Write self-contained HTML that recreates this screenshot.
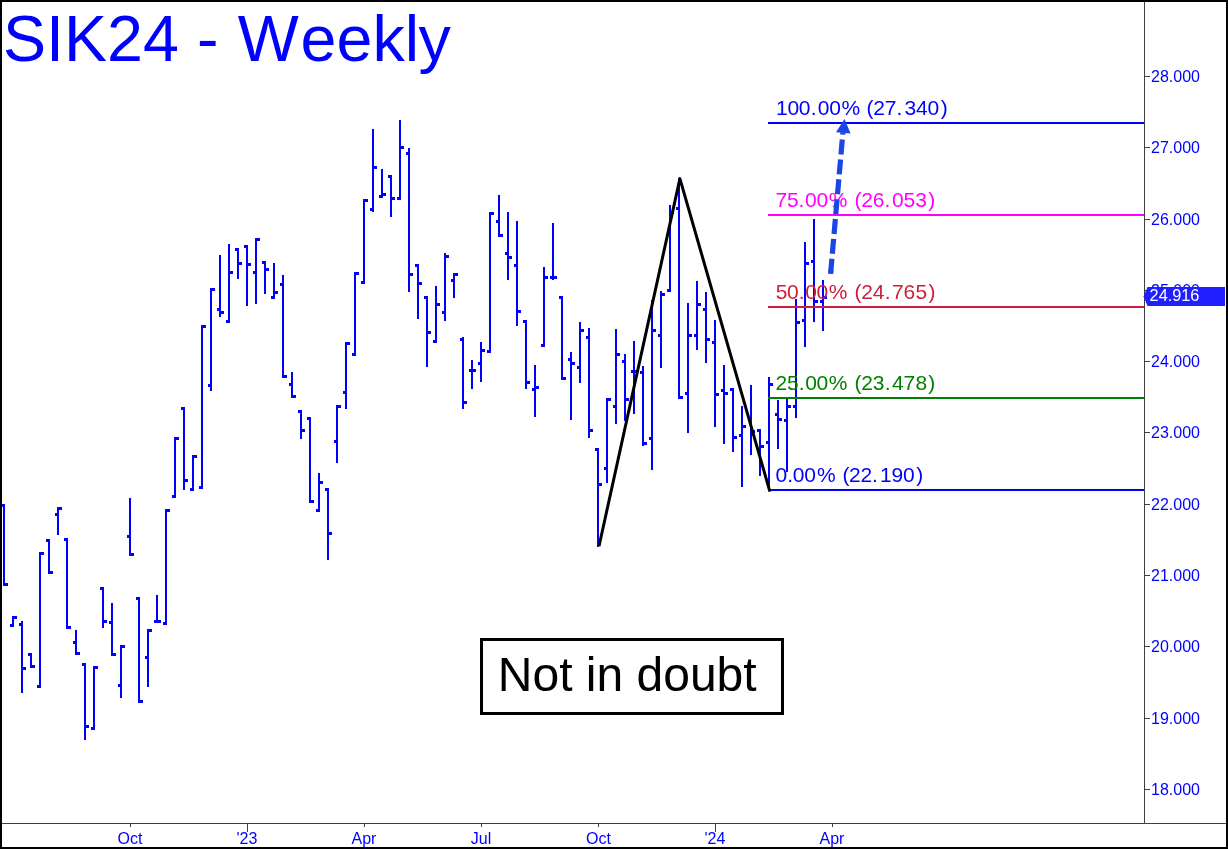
<!DOCTYPE html>
<html lang="en"><head><meta charset="utf-8"><title>SIK24 - Weekly</title>
<style>
html,body{margin:0;padding:0;background:#fff;}
body{width:1228px;height:849px;overflow:hidden;font-family:"Liberation Sans",Arial,sans-serif;}
svg{display:block;}
text{font-family:"Liberation Sans",Arial,sans-serif;}
.ax{font-size:16px;fill:#0000ff;}
.fib{font-size:21px;}
</style></head><body>
<svg width="1228" height="849" viewBox="0 0 1228 849">
<rect x="0" y="0" width="1228" height="849" fill="#ffffff"/>

<g shape-rendering="crispEdges">
<rect x="1144" y="2" width="1" height="822" fill="#404040"/>
<rect x="2" y="823" width="1224" height="1" fill="#404040"/>
<rect x="1145" y="76" width="5" height="1" fill="#404040"/>
<rect x="1145" y="147" width="5" height="1" fill="#404040"/>
<rect x="1145" y="219" width="5" height="1" fill="#404040"/>
<rect x="1145" y="290" width="5" height="1" fill="#404040"/>
<rect x="1145" y="361" width="5" height="1" fill="#404040"/>
<rect x="1145" y="432" width="5" height="1" fill="#404040"/>
<rect x="1145" y="504" width="5" height="1" fill="#404040"/>
<rect x="1145" y="575" width="5" height="1" fill="#404040"/>
<rect x="1145" y="646" width="5" height="1" fill="#404040"/>
<rect x="1145" y="718" width="5" height="1" fill="#404040"/>
<rect x="1145" y="789" width="5" height="1" fill="#404040"/>
<rect x="130" y="824" width="1" height="3" fill="#404040"/>
<rect x="247" y="824" width="1" height="8" fill="#404040"/>
<rect x="364" y="824" width="1" height="3" fill="#404040"/>
<rect x="481" y="824" width="1" height="3" fill="#404040"/>
<rect x="598" y="824" width="1" height="3" fill="#404040"/>
<rect x="715" y="824" width="1" height="8" fill="#404040"/>
<rect x="832" y="824" width="1" height="3" fill="#404040"/>
</g>
<text class="ax" x="1151" y="82">28.000</text>
<text class="ax" x="1151" y="153">27.000</text>
<text class="ax" x="1151" y="225">26.000</text>
<text class="ax" x="1151" y="296">25.000</text>
<text class="ax" x="1151" y="367">24.000</text>
<text class="ax" x="1151" y="438">23.000</text>
<text class="ax" x="1151" y="510">22.000</text>
<text class="ax" x="1151" y="581">21.000</text>
<text class="ax" x="1151" y="652">20.000</text>
<text class="ax" x="1151" y="724">19.000</text>
<text class="ax" x="1151" y="795">18.000</text>
<text class="ax" x="130" y="844" text-anchor="middle">Oct</text>
<text class="ax" x="247" y="844" text-anchor="middle">'23</text>
<text class="ax" x="364" y="844" text-anchor="middle">Apr</text>
<text class="ax" x="481" y="844" text-anchor="middle">Jul</text>
<text class="ax" x="598.5" y="844" text-anchor="middle">Oct</text>
<text class="ax" x="715" y="844" text-anchor="middle">'24</text>
<text class="ax" x="832" y="844" text-anchor="middle">Apr</text>
<g fill="#0000ff" shape-rendering="crispEdges">
<rect x="3" y="504" width="2" height="82"/>
<rect x="2" y="504" width="1" height="3"/>
<rect x="5" y="583" width="3" height="3"/>
<rect x="12" y="616" width="2" height="11"/>
<rect x="10" y="624" width="2" height="3"/>
<rect x="14" y="616" width="3" height="3"/>
<rect x="21" y="621" width="2" height="72"/>
<rect x="19" y="623" width="2" height="3"/>
<rect x="23" y="667" width="3" height="3"/>
<rect x="30" y="653" width="2" height="15"/>
<rect x="28" y="653" width="2" height="3"/>
<rect x="32" y="665" width="3" height="3"/>
<rect x="39" y="552" width="2" height="136"/>
<rect x="37" y="685" width="2" height="3"/>
<rect x="41" y="552" width="3" height="3"/>
<rect x="48" y="539" width="2" height="35"/>
<rect x="46" y="539" width="2" height="3"/>
<rect x="50" y="571" width="3" height="3"/>
<rect x="57" y="507" width="2" height="28"/>
<rect x="55" y="513" width="2" height="3"/>
<rect x="59" y="507" width="3" height="3"/>
<rect x="66" y="538" width="2" height="91"/>
<rect x="64" y="538" width="2" height="3"/>
<rect x="68" y="626" width="3" height="3"/>
<rect x="75" y="630" width="2" height="25"/>
<rect x="73" y="641" width="2" height="3"/>
<rect x="77" y="652" width="3" height="3"/>
<rect x="84" y="663" width="2" height="77"/>
<rect x="82" y="663" width="2" height="3"/>
<rect x="86" y="725" width="3" height="3"/>
<rect x="93" y="666" width="2" height="64"/>
<rect x="91" y="727" width="2" height="3"/>
<rect x="95" y="666" width="3" height="3"/>
<rect x="102" y="587" width="2" height="41"/>
<rect x="100" y="587" width="2" height="3"/>
<rect x="104" y="620" width="3" height="3"/>
<rect x="111" y="603" width="2" height="53"/>
<rect x="109" y="621" width="2" height="3"/>
<rect x="113" y="653" width="3" height="3"/>
<rect x="120" y="645" width="2" height="53"/>
<rect x="118" y="684" width="2" height="3"/>
<rect x="122" y="645" width="3" height="3"/>
<rect x="129" y="498" width="2" height="58"/>
<rect x="127" y="535" width="2" height="3"/>
<rect x="131" y="553" width="3" height="3"/>
<rect x="138" y="597" width="2" height="106"/>
<rect x="136" y="597" width="2" height="3"/>
<rect x="140" y="700" width="3" height="3"/>
<rect x="147" y="629" width="2" height="58"/>
<rect x="145" y="656" width="2" height="3"/>
<rect x="149" y="629" width="3" height="3"/>
<rect x="156" y="595" width="2" height="28"/>
<rect x="154" y="620" width="2" height="3"/>
<rect x="158" y="620" width="3" height="3"/>
<rect x="165" y="509" width="2" height="116"/>
<rect x="163" y="622" width="2" height="3"/>
<rect x="167" y="509" width="3" height="3"/>
<rect x="174" y="437" width="2" height="61"/>
<rect x="172" y="495" width="2" height="3"/>
<rect x="176" y="437" width="3" height="3"/>
<rect x="183" y="407" width="2" height="83"/>
<rect x="181" y="407" width="2" height="3"/>
<rect x="185" y="479" width="3" height="3"/>
<rect x="192" y="455" width="2" height="36"/>
<rect x="190" y="488" width="2" height="3"/>
<rect x="194" y="455" width="3" height="3"/>
<rect x="201" y="325" width="2" height="164"/>
<rect x="199" y="486" width="2" height="3"/>
<rect x="203" y="325" width="3" height="3"/>
<rect x="210" y="288" width="2" height="103"/>
<rect x="208" y="384" width="2" height="3"/>
<rect x="212" y="288" width="3" height="3"/>
<rect x="219" y="255" width="2" height="62"/>
<rect x="217" y="308" width="2" height="3"/>
<rect x="221" y="311" width="3" height="3"/>
<rect x="228" y="244" width="2" height="79"/>
<rect x="226" y="320" width="2" height="3"/>
<rect x="230" y="271" width="3" height="3"/>
<rect x="237" y="248" width="2" height="31"/>
<rect x="235" y="248" width="2" height="3"/>
<rect x="239" y="262" width="3" height="3"/>
<rect x="246" y="245" width="2" height="61"/>
<rect x="244" y="245" width="2" height="3"/>
<rect x="248" y="263" width="3" height="3"/>
<rect x="255" y="238" width="2" height="66"/>
<rect x="253" y="271" width="2" height="3"/>
<rect x="257" y="238" width="3" height="3"/>
<rect x="264" y="261" width="2" height="33"/>
<rect x="262" y="261" width="2" height="3"/>
<rect x="266" y="268" width="3" height="3"/>
<rect x="273" y="263" width="2" height="36"/>
<rect x="271" y="296" width="2" height="3"/>
<rect x="275" y="291" width="3" height="3"/>
<rect x="282" y="275" width="2" height="103"/>
<rect x="280" y="283" width="2" height="3"/>
<rect x="284" y="375" width="3" height="3"/>
<rect x="291" y="372" width="2" height="26"/>
<rect x="289" y="383" width="2" height="3"/>
<rect x="293" y="395" width="3" height="3"/>
<rect x="300" y="410" width="2" height="29"/>
<rect x="298" y="410" width="2" height="3"/>
<rect x="302" y="429" width="3" height="3"/>
<rect x="309" y="417" width="2" height="86"/>
<rect x="307" y="417" width="2" height="3"/>
<rect x="311" y="500" width="3" height="3"/>
<rect x="318" y="473" width="2" height="39"/>
<rect x="316" y="509" width="2" height="3"/>
<rect x="320" y="481" width="3" height="3"/>
<rect x="327" y="488" width="2" height="72"/>
<rect x="325" y="488" width="2" height="3"/>
<rect x="329" y="532" width="3" height="3"/>
<rect x="336" y="405" width="2" height="58"/>
<rect x="334" y="440" width="2" height="3"/>
<rect x="338" y="405" width="3" height="3"/>
<rect x="345" y="342" width="2" height="67"/>
<rect x="343" y="391" width="2" height="3"/>
<rect x="347" y="342" width="3" height="3"/>
<rect x="354" y="272" width="2" height="84"/>
<rect x="352" y="353" width="2" height="3"/>
<rect x="356" y="272" width="3" height="3"/>
<rect x="363" y="199" width="2" height="85"/>
<rect x="361" y="281" width="2" height="3"/>
<rect x="365" y="199" width="3" height="3"/>
<rect x="372" y="129" width="2" height="83"/>
<rect x="370" y="208" width="2" height="3"/>
<rect x="374" y="166" width="3" height="3"/>
<rect x="381" y="169" width="2" height="29"/>
<rect x="379" y="195" width="2" height="3"/>
<rect x="383" y="193" width="3" height="3"/>
<rect x="390" y="175" width="2" height="42"/>
<rect x="388" y="175" width="2" height="3"/>
<rect x="392" y="197" width="3" height="3"/>
<rect x="399" y="120" width="2" height="80"/>
<rect x="397" y="197" width="2" height="3"/>
<rect x="401" y="146" width="3" height="3"/>
<rect x="408" y="148" width="2" height="144"/>
<rect x="406" y="152" width="2" height="3"/>
<rect x="410" y="273" width="3" height="3"/>
<rect x="417" y="264" width="2" height="55"/>
<rect x="415" y="264" width="2" height="3"/>
<rect x="419" y="282" width="3" height="3"/>
<rect x="426" y="296" width="2" height="71"/>
<rect x="424" y="296" width="2" height="3"/>
<rect x="428" y="331" width="3" height="3"/>
<rect x="435" y="286" width="2" height="57"/>
<rect x="433" y="340" width="2" height="3"/>
<rect x="437" y="303" width="3" height="3"/>
<rect x="444" y="253" width="2" height="68"/>
<rect x="442" y="311" width="2" height="3"/>
<rect x="446" y="255" width="3" height="3"/>
<rect x="453" y="273" width="2" height="25"/>
<rect x="451" y="279" width="2" height="3"/>
<rect x="455" y="273" width="3" height="3"/>
<rect x="462" y="337" width="2" height="72"/>
<rect x="460" y="338" width="2" height="3"/>
<rect x="464" y="401" width="3" height="3"/>
<rect x="471" y="360" width="2" height="29"/>
<rect x="469" y="369" width="2" height="3"/>
<rect x="473" y="369" width="3" height="3"/>
<rect x="480" y="342" width="2" height="40"/>
<rect x="478" y="362" width="2" height="3"/>
<rect x="482" y="349" width="3" height="3"/>
<rect x="489" y="212" width="2" height="141"/>
<rect x="487" y="350" width="2" height="3"/>
<rect x="491" y="212" width="3" height="3"/>
<rect x="498" y="195" width="2" height="42"/>
<rect x="496" y="220" width="2" height="3"/>
<rect x="500" y="234" width="3" height="3"/>
<rect x="507" y="212" width="2" height="68"/>
<rect x="505" y="252" width="2" height="3"/>
<rect x="509" y="256" width="3" height="3"/>
<rect x="516" y="221" width="2" height="105"/>
<rect x="514" y="264" width="2" height="3"/>
<rect x="518" y="310" width="3" height="3"/>
<rect x="525" y="320" width="2" height="69"/>
<rect x="523" y="320" width="2" height="3"/>
<rect x="527" y="381" width="3" height="3"/>
<rect x="534" y="365" width="2" height="52"/>
<rect x="532" y="388" width="2" height="3"/>
<rect x="536" y="386" width="3" height="3"/>
<rect x="543" y="267" width="2" height="80"/>
<rect x="541" y="344" width="2" height="3"/>
<rect x="545" y="276" width="3" height="3"/>
<rect x="552" y="223" width="2" height="57"/>
<rect x="550" y="276" width="2" height="3"/>
<rect x="554" y="276" width="3" height="3"/>
<rect x="561" y="296" width="2" height="84"/>
<rect x="559" y="296" width="2" height="3"/>
<rect x="563" y="377" width="3" height="3"/>
<rect x="570" y="352" width="2" height="68"/>
<rect x="568" y="358" width="2" height="3"/>
<rect x="572" y="362" width="3" height="3"/>
<rect x="579" y="322" width="2" height="61"/>
<rect x="577" y="366" width="2" height="3"/>
<rect x="581" y="329" width="3" height="3"/>
<rect x="588" y="328" width="2" height="110"/>
<rect x="586" y="336" width="2" height="3"/>
<rect x="590" y="429" width="3" height="3"/>
<rect x="597" y="448" width="2" height="99"/>
<rect x="595" y="448" width="2" height="3"/>
<rect x="599" y="483" width="3" height="3"/>
<rect x="606" y="398" width="2" height="85"/>
<rect x="604" y="467" width="2" height="3"/>
<rect x="608" y="398" width="3" height="3"/>
<rect x="615" y="329" width="2" height="95"/>
<rect x="613" y="405" width="2" height="3"/>
<rect x="617" y="353" width="3" height="3"/>
<rect x="624" y="354" width="2" height="67"/>
<rect x="622" y="360" width="2" height="3"/>
<rect x="626" y="398" width="3" height="3"/>
<rect x="633" y="341" width="2" height="73"/>
<rect x="631" y="370" width="2" height="3"/>
<rect x="635" y="370" width="3" height="3"/>
<rect x="642" y="366" width="2" height="80"/>
<rect x="640" y="371" width="2" height="3"/>
<rect x="644" y="442" width="3" height="3"/>
<rect x="651" y="300" width="2" height="170"/>
<rect x="649" y="437" width="2" height="3"/>
<rect x="653" y="329" width="3" height="3"/>
<rect x="660" y="291" width="2" height="77"/>
<rect x="658" y="334" width="2" height="3"/>
<rect x="662" y="293" width="3" height="3"/>
<rect x="669" y="205" width="2" height="87"/>
<rect x="667" y="289" width="2" height="3"/>
<rect x="671" y="211" width="3" height="3"/>
<rect x="678" y="178" width="2" height="221"/>
<rect x="676" y="207" width="2" height="3"/>
<rect x="680" y="396" width="3" height="3"/>
<rect x="687" y="303" width="2" height="130"/>
<rect x="685" y="392" width="2" height="3"/>
<rect x="689" y="334" width="3" height="3"/>
<rect x="696" y="281" width="2" height="69"/>
<rect x="694" y="334" width="2" height="3"/>
<rect x="698" y="303" width="3" height="3"/>
<rect x="705" y="292" width="2" height="71"/>
<rect x="703" y="308" width="2" height="3"/>
<rect x="707" y="338" width="3" height="3"/>
<rect x="714" y="320" width="2" height="107"/>
<rect x="712" y="341" width="2" height="3"/>
<rect x="716" y="393" width="3" height="3"/>
<rect x="723" y="365" width="2" height="79"/>
<rect x="721" y="389" width="2" height="3"/>
<rect x="725" y="392" width="3" height="3"/>
<rect x="732" y="388" width="2" height="64"/>
<rect x="730" y="388" width="2" height="3"/>
<rect x="734" y="436" width="3" height="3"/>
<rect x="741" y="406" width="2" height="81"/>
<rect x="739" y="434" width="2" height="3"/>
<rect x="743" y="425" width="3" height="3"/>
<rect x="750" y="385" width="2" height="70"/>
<rect x="748" y="417" width="2" height="3"/>
<rect x="752" y="430" width="3" height="3"/>
<rect x="759" y="429" width="2" height="47"/>
<rect x="757" y="429" width="2" height="3"/>
<rect x="761" y="445" width="3" height="3"/>
<rect x="768" y="377" width="2" height="114"/>
<rect x="766" y="441" width="2" height="3"/>
<rect x="770" y="383" width="3" height="3"/>
<rect x="777" y="400" width="2" height="49"/>
<rect x="775" y="413" width="2" height="3"/>
<rect x="779" y="418" width="3" height="3"/>
<rect x="786" y="399" width="2" height="73"/>
<rect x="784" y="419" width="2" height="3"/>
<rect x="788" y="405" width="3" height="3"/>
<rect x="795" y="299" width="2" height="119"/>
<rect x="793" y="405" width="2" height="3"/>
<rect x="797" y="321" width="3" height="3"/>
<rect x="804" y="242" width="2" height="105"/>
<rect x="802" y="319" width="2" height="3"/>
<rect x="806" y="262" width="3" height="3"/>
<rect x="813" y="219" width="2" height="103"/>
<rect x="811" y="260" width="2" height="3"/>
<rect x="815" y="300" width="3" height="3"/>
<rect x="822" y="280" width="2" height="51"/>
<rect x="820" y="300" width="2" height="3"/>
<rect x="824" y="296" width="3" height="3"/>
</g>
<g shape-rendering="crispEdges">
<rect x="768" y="122" width="376" height="2" fill="#0000ff"/>
<rect x="768" y="214" width="376" height="2" fill="#ff00ff"/>
<rect x="768" y="306" width="376" height="2" fill="#cd1f3d"/>
<rect x="768" y="397" width="376" height="2" fill="#008000"/>
<rect x="768" y="489" width="376" height="2" fill="#0000ff"/>
</g>
<text class="fib" x="775.90 787.40 798.80 810.70 817.80 829.20 841.60 856.00 866.50 873.30 884.70 896.60 904.50 915.90 927.40 940.70" y="114.5" fill="#0000ff">100.00% (27.340)</text>
<text class="fib" x="775.50 786.90 798.60 805.05 816.45 828.65 841.50 854.45 861.15 872.65 884.55 891.95 903.45 915.35 928.25" y="206.5" fill="#ff00ff">75.00% (26.053)</text>
<text class="fib" x="775.66 787.06 798.76 805.21 816.61 828.81 841.66 854.61 861.31 872.81 884.71 892.11 903.61 915.51 928.41" y="298.5" fill="#cd1f3d">50.00% (24.765)</text>
<text class="fib" x="775.60 787.00 798.70 805.15 816.55 828.75 841.60 854.55 861.25 872.75 884.65 892.05 903.55 915.45 928.35" y="389.5" fill="#008000">25.00% (23.478)</text>
<text class="fib" x="775.50 787.20 792.80 804.20 817.10 831.00 842.60 848.90 860.40 872.10 880.10 891.50 902.90 916.30" y="481.5" fill="#0000ff">0.00% (22.190)</text>
<polyline points="599.0,546.2 679.9,178.6 769.9,491.6" fill="none" stroke="#000" stroke-width="3.0" stroke-linejoin="round"/>
<line x1="830.6" y1="273.7" x2="842.9" y2="132.5" stroke="#1b45e4" stroke-width="5.2" stroke-dasharray="15 4.94" />
<circle cx="830.8" cy="271.3" r="2.6" fill="#1b45e4"/>
<polygon points="844.5,119 836,132.2 850.6,133.4" fill="#1b45e4"/>
<polygon points="1143.5,296.5 1147.5,287 1225,287 1225,306 1147.5,306" fill="#1f1fff"/>
<text x="1149.6" y="300.7" font-size="16.3" fill="#ffffff">24.916</text>
<text x="3" y="61.3" font-size="64.6" fill="#0000ff">SIK24 -</text>
<text x="237.7 300.6 336.5 372.4 404.7 418.4" y="61.3" font-size="64.6" fill="#0000ff">Weekly</text>
<rect x="481.5" y="639.5" width="301" height="74" fill="#ffffff" stroke="#000" stroke-width="3" shape-rendering="crispEdges"/>
<text x="497.8" y="690.5" font-size="48" fill="#000">Not in doubt</text>
<g fill="#000" shape-rendering="crispEdges"><rect x="0" y="0" width="1228" height="2"/><rect x="0" y="847" width="1228" height="2"/><rect x="0" y="0" width="2" height="849"/><rect x="1226" y="0" width="2" height="849"/></g>
</svg></body></html>
